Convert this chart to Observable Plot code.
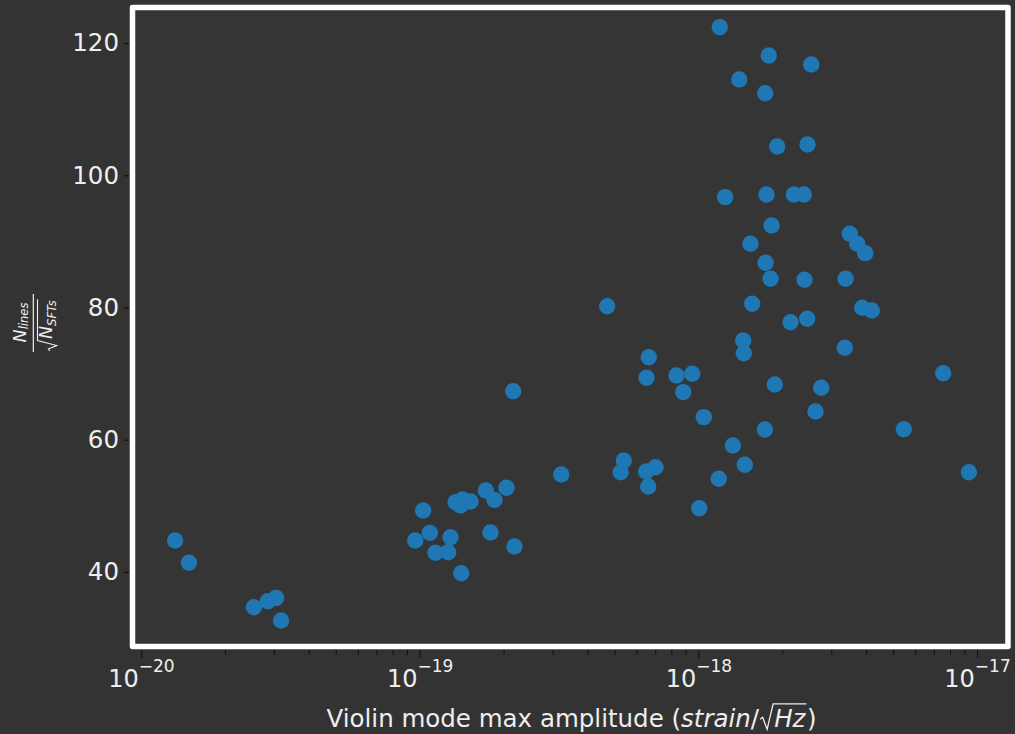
<!DOCTYPE html>
<html>
<head>
<meta charset="utf-8">
<script src="https://cdn.jsdelivr.net/npm/d3@7"></script>
<script src="https://cdn.jsdelivr.net/npm/@observablehq/plot@0.6"></script>
<style>
  html, body { margin: 0; padding: 0; background: #333333; overflow: hidden; }
  #chart svg { display: block; }
</style>
</head>
<body>
<div id="chart"></div>
<script>
// Peak violin-mode strain amplitude for each observing segment
const amplitude = [
  1.32e-20, 1.48e-20, 2.53e-20, 2.84e-20, 3.04e-20, 3.17e-20,
  9.60e-20, 1.025e-19, 1.083e-19, 1.135e-19, 1.261e-19, 1.285e-19, 1.339e-19, 1.395e-19,
  1.419e-19, 1.516e-19, 1.404e-19, 1.72e-19, 1.788e-19, 1.848e-19, 2.04e-19, 2.157e-19,
  2.18e-19, 3.207e-19,
  4.69e-19, 6.614e-19, 6.49e-19, 8.31e-19, 9.47e-19, 8.79e-19, 1.042e-18, 5.38e-19,
  5.24e-19, 6.47e-19, 6.99e-19, 6.58e-19, 1.179e-18, 1.003e-18,
  1.189e-18, 1.782e-18, 2.531e-18, 1.396e-18, 1.73e-18, 2.454e-18, 1.91e-18, 1.243e-18,
  1.749e-18, 2.192e-18, 2.381e-18, 1.823e-18,
  1.532e-18, 1.735e-18, 1.808e-18, 2.394e-18, 1.554e-18, 2.133e-18, 2.448e-18, 1.443e-18,
  1.45e-18, 1.873e-18, 2.749e-18, 2.622e-18, 1.725e-18, 1.324e-18, 1.462e-18,
  3.481e-18, 3.701e-18, 3.954e-18, 3.36e-18, 3.857e-18, 4.175e-18, 3.341e-18, 7.53e-18,
  5.44e-18, 9.31e-18
];

// Number of lines normalised by sqrt(number of SFTs), same order
const linesPerRootSFT = [
  44.84, 41.47, 34.75, 35.66, 36.17, 32.74,
  44.84, 49.38, 46.0, 42.98, 43.07, 45.34, 50.63, 50.13,
  51.04, 50.74, 39.89, 52.40, 46.05, 50.99, 52.81, 67.42,
  43.93, 54.82,
  80.27, 72.56, 69.44, 69.79, 70.05, 67.27, 63.49, 56.94,
  55.17, 55.27, 55.92, 53.01, 54.17, 49.72,
  122.47, 118.19, 116.82, 114.55, 112.48, 104.73, 104.42, 96.76,
  97.16, 97.16, 97.16, 92.48,
  89.71, 86.84, 84.42, 84.27, 80.64, 77.85, 78.37, 75.09,
  73.16, 68.43, 67.93, 64.35, 61.63, 59.21, 56.29,
  91.22, 89.71, 88.29, 84.42, 80.03, 79.62, 73.98, 70.14,
  61.67, 55.17
];

// Axis ticks
const yTicks = [40, 60, 80, 100, 120];
const xDecades = [-20, -19, -18, -17];

const points = amplitude.map((a, i) => ({amp: a, n: linesPerRootSFT[i]}));
const majorX = xDecades.map(e => 10 ** e);
const minorX = [];
for (const e of xDecades.slice(0, -1)) for (let k = 2; k <= 9; k++) minorX.push(k * 10 ** e);

const textColor = "#eeeeee";
const tickColor = "#111111";
const font = "DejaVu Sans, sans-serif";

const chart = Plot.plot({
  width: 1015,
  height: 734,
  marginLeft: 132,
  marginRight: 7.5,
  marginTop: 7,
  marginBottom: 88,
  style: {background: "transparent", fontFamily: font, overflow: "visible"},
  x: {type: "log", domain: [9.283e-21, 1.2864e-17], axis: null},
  y: {domain: [28.81, 125.44], axis: null},
  marks: [
    Plot.frame({fill: "#353535", stroke: "white", strokeWidth: 5.5, strokeLinejoin: "round"}),
    // y ticks (dark) and labels (light)
    Plot.axisY(yTicks, {anchor: "left", tickSize: 5, dx: -3, stroke: tickColor, strokeWidth: 1.2, fill: "none", label: null}),
    Plot.axisY(yTicks, {anchor: "left", tickSize: 0, tickPadding: 13.5, fontSize: 24.5, fill: textColor, label: null}),
    // x ticks (major and minor) under the frame
    Plot.axisX(majorX, {anchor: "bottom", tickSize: 8, dy: 4, stroke: tickColor, strokeWidth: 1.2, fill: "none", label: null}),
    Plot.axisX(minorX, {anchor: "bottom", tickSize: 5, dy: 4, stroke: tickColor, strokeWidth: 1, fill: "none", label: null}),
    // x tick labels: base "10" with a raised exponent
    Plot.text(xDecades, {x: e => 10 ** e, frameAnchor: "bottom", text: () => "10",
      textAnchor: "start", lineAnchor: "bottom", dx: -33.2, dy: 40.7, fontSize: 24, fill: textColor}),
    Plot.text(xDecades, {x: e => 10 ** e, frameAnchor: "bottom", text: e => "\u2212" + Math.abs(e),
      textAnchor: "start", lineAnchor: "bottom", dx: -2.7, dy: 25.7, fontSize: 17, fill: textColor}),
    Plot.dot(points, {x: "amp", y: "n", r: 8.2, fill: "#1f77b4", stroke: null})
  ]
});

document.getElementById("chart").appendChild(chart);

const svg = d3.select(chart);

// x axis title with italic math and a drawn radical
const xTitle = svg.append("text")
  .attr("x", 571.5).attr("y", 727.3)
  .attr("text-anchor", "middle")
  .attr("font-family", font).attr("font-size", 24.5).attr("fill", textColor);
xTitle.append("tspan").text("Violin mode max amplitude (");
xTitle.append("tspan").attr("font-style", "italic").text("strain");
xTitle.append("tspan").text("/");
xTitle.append("tspan").attr("font-style", "italic").attr("dx", 15).text("Hz");
xTitle.append("tspan").attr("dx", 1.5).text(")");
{
  const node = xTitle.node();
  const full = node.textContent;
  const iHz = full.indexOf("Hz");
  const slashEnd = node.getEndPositionOfChar(iHz - 1).x;
  const hzStart = node.getStartPositionOfChar(iHz).x;
  const hzEnd = node.getEndPositionOfChar(iHz + 1).x;
  const b = 727.3;
  const sx = slashEnd + 1;
  svg.append("path")
    .attr("d", `M${sx},${b - 8} L${sx + 2.5},${b - 10} L${sx + 7},${b + 2} L${hzStart - 1},${b - 23.5} L${hzEnd + 1},${b - 23.5}`)
    .attr("fill", "none").attr("stroke", textColor).attr("stroke-width", 1.3)
    .attr("stroke-linejoin", "miter");
}

// y axis title: N_lines / sqrt(N_SFTs), rotated
const yTitle = svg.append("g")
  .attr("transform", "translate(33.3,323) rotate(-90)")
  .attr("font-family", font).attr("fill", textColor);
const num = yTitle.append("text").attr("x", 0.5).attr("y", -7.3).attr("text-anchor", "middle");
num.append("tspan").attr("font-style", "italic").attr("font-size", 17.5).text("N");
num.append("tspan").attr("font-style", "italic").attr("font-size", 11.5).attr("dy", 2.3).text("lines");
yTitle.append("line")
  .attr("x1", -29).attr("x2", 29).attr("y1", 0).attr("y2", 0)
  .attr("stroke", "white").attr("stroke-width", 1.1);
const den = yTitle.append("text").attr("x", -16).attr("y", 18.8).attr("text-anchor", "start");
den.append("tspan").attr("font-style", "italic").attr("font-size", 17.5).text("N");
den.append("tspan").attr("font-style", "italic").attr("font-size", 11.5).attr("dy", 3.5).text("SFTs");
{
  const node = den.node();
  const n = node.textContent.length;
  const end = node.getEndPositionOfChar(n - 1).x;
  yTitle.append("path")
    .attr("d", `M-28,16.5 L-26,15 L-22.5,23.5 L-17.5,4.2 L${end + 1},4.2`)
    .attr("fill", "none").attr("stroke", textColor).attr("stroke-width", 1.1);
}
</script>
</body>
</html>
